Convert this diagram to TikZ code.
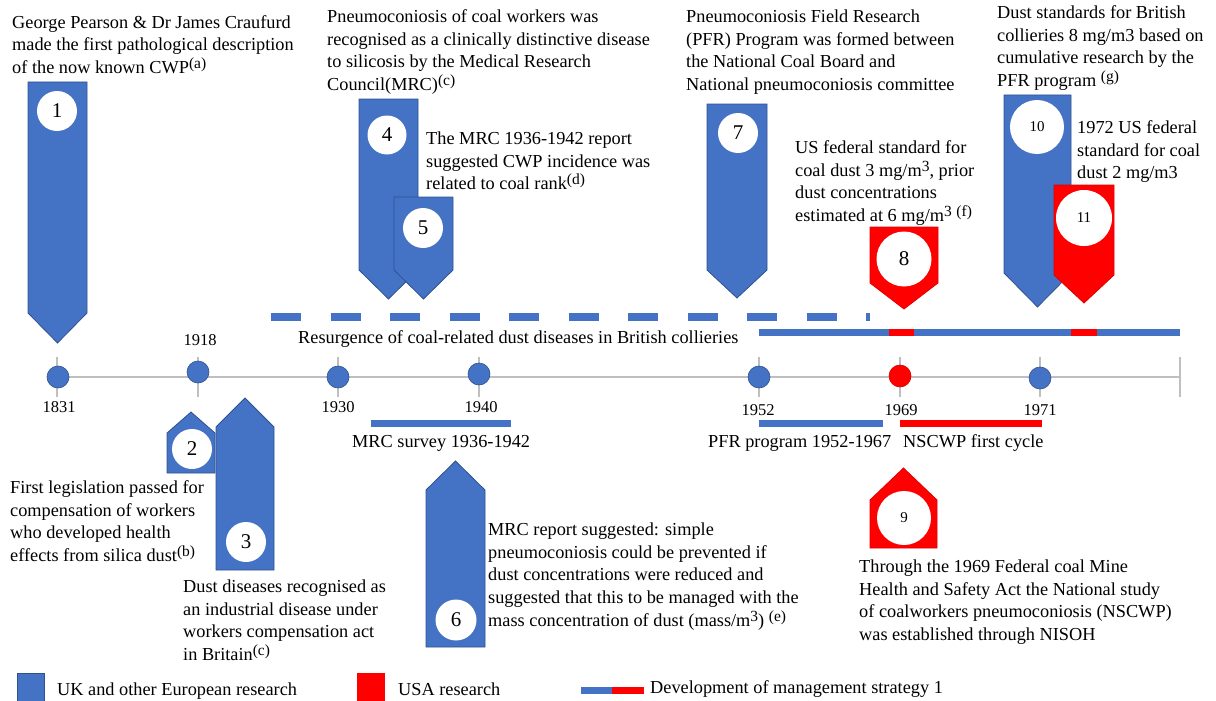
\documentclass[tikz,border=0pt]{standalone}
\usepackage{fontspec}
\setmainfont{Liberation Serif}
\definecolor{ublue}{HTML}{4472C4}
\definecolor{ubluedk}{HTML}{2F528F}
\definecolor{ured}{HTML}{FF0000}
\definecolor{axisgrey}{HTML}{BFBFBF}
\newcommand{\sups}[1]{\raisebox{5pt}{\fontsize{15.5}{15.5}\selectfont #1}}
\newcommand{\fst}{\rule{0pt}{14pt}}
% down arrow: L R T S Y
\newcommand{\downarr}[6]{\path[#1] (#2,#4) -- (#3,#4) -- (#3,#5) -- ({(#2+#3)/2},#6) -- (#2,#5) -- cycle;}
% up arrow: L R tip S B
\newcommand{\uparr}[6]{\path[#1] ({(#2+#3)/2},#4) -- (#3,#5) -- (#3,#6) -- (#2,#6) -- (#2,#5) -- cycle;}
\begin{document}
\begin{tikzpicture}[x=1pt,y=-1pt,
  txt/.style={anchor=north west, inner sep=0pt, align=left, font=\fontsize{18.3}{22.8}\selectfont},
  lbl/.style={anchor=base west, inner sep=0pt, font=\fontsize{18.3}{22.8}\selectfont},
  yr/.style={anchor=base, inner sep=0pt, font=\fontsize{16.5}{18}\selectfont},
  bluearrow/.style={fill=ublue, draw=ubluedk, line width=0.8pt},
  redarrow/.style={fill=ured, draw=ured!90!black, line width=0.8pt},
  numc/.style={circle, fill=white, inner sep=0pt, minimum size=#1, font=\fontsize{21}{21}\selectfont},
  numcs/.style={circle, fill=white, inner sep=0pt, minimum size=#1, font=\fontsize{15}{15}\selectfont},
  bdot/.style={circle, fill=ublue, draw=ubluedk, line width=0.6pt, minimum size=22pt, inner sep=0pt},
  rdot/.style={circle, fill=ured, draw=ured!85!black, line width=0.6pt, minimum size=22pt, inner sep=0pt},
  axis/.style={axisgrey, line width=1.5pt},
  tick/.style={axisgrey, line width=1.2pt},
  bar/.style={line width=7pt}
]
\useasboundingbox (0,0) rectangle (1216,701);

% ---- axis ----
\draw[axis] (58,377) -- (1180,377);
\foreach \x in {57,198,338,479,759,900,1040,1180} {\draw[tick] (\x,357) -- (\x,397);}
\node[bdot] (d1831) at (58,377) {};
\node[bdot] (d1918) at (198,372) {};
\node[bdot] (d1930) at (338,377) {};
\node[bdot] (d1940) at (479,374) {};
\node[bdot] (d1952) at (759,377) {};
\node[rdot] (d1969) at (900,376) {};
\node[bdot] (d1971) at (1040,378) {};
\node[yr] (y1831) at (59,412) {1831};
\node[yr] (y1918) at (200,345) {1918};
\node[yr] (y1930) at (338,412) {1930};
\node[yr] (y1940) at (481,412) {1940};
\node[yr] (y1952) at (758,415) {1952};
\node[yr] (y1969) at (901,415) {1969};
\node[yr] (y1971) at (1040,415) {1971};

% ---- bars ----
\draw[bar, ublue] (371,423) -- (511,423);
\draw[bar, ublue] (759,423) -- (883,423);
\draw[bar, ured] (900,423) -- (1042,423);
\node[lbl] (lmrc) at (352,447) {MRC survey 1936-1942};
\node[lbl] (lpfr) at (708,447) {PFR program 1952-1967};
\node[lbl] (lnsc) at (903,447) {NSCWP first cycle};

% ---- strategy lines ----
\draw[ublue, line width=8pt, dash pattern=on 30pt off 29.5pt] (271,317) -- (870,317);
\node[lbl] (lres) at (298,343) {Resurgence of coal-related dust diseases in British collieries};
\draw[bar, ublue] (759,332) -- (1180,332);
\draw[bar, ured] (889,332) -- (914,332);
\draw[bar, ured] (1071,332) -- (1097,332);

% ---- arrows ----
\downarr{bluearrow}{28}{87}{82}{313}{343}
\node[numc=40pt] (n1) at (57,111) {1};
\uparr{bluearrow}{167}{215}{412}{433}{473}
\node[numc=40pt] (n2) at (192,449) {2};
\uparr{bluearrow}{216}{274}{398}{427}{570}
\node[numc=40pt] (n3) at (246,542) {3};
\downarr{bluearrow}{359}{418}{99}{270}{299}
\node[numc=39pt] (n4) at (387,135) {4};
\downarr{bluearrow}{394}{453}{197}{270}{299}
\node[numc=40pt] (n5) at (423,228) {5};
\uparr{bluearrow}{426}{485}{461}{490}{647}
\node[numc=41pt] (n6) at (456,620) {6};
\downarr{bluearrow}{707}{767}{104}{270}{298}
\node[numc=40pt] (n7) at (738,133) {7};
\downarr{redarrow}{870}{938}{227}{283}{309}
\node[numc=55pt] (n8) at (904,259) {8};
\uparr{redarrow}{870}{937}{468}{500}{548}
\node[numcs=54pt] (n9) at (904,518) {9};
\downarr{bluearrow}{1004}{1071}{95}{273}{307}
\node[numcs=54pt] (n10) at (1037,127) {10};
\downarr{redarrow}{1054}{1114}{185}{275}{303}
\node[numcs=56pt] (n11) at (1084,218) {11};

% ---- texts ----
\node[txt] (t1) at (12,14) {\fst George Pearson \& Dr James Craufurd\\made the first pathological description\\of the now known CWP\sups{(a)}};
\node[txt] (t2) at (10,479) {\fst First legislation passed for\\compensation of workers\\who developed health\\effects from silica dust\sups{(b)}};
\node[txt] (t3) at (183,578) {\fst Dust diseases recognised as\\an industrial disease under\\workers compensation act\\in Britain\sups{(c)}};
\node[txt] (t4) at (327,8) {\fst Pneumoconiosis of coal workers was\\recognised as a clinically distinctive disease\\to silicosis by the Medical Research\\Council(MRC)\sups{(c)}};
\node[txt] (t5) at (426,130) {\fst The MRC 1936-1942 report\\suggested CWP incidence was\\related to coal rank\sups{(d)}};
\node[txt] (t6) at (488,521) {\fst MRC report suggested: simple\\pneumoconiosis could be prevented if\\dust concentrations were reduced and\\suggested that this to be managed with the\\mass concentration of dust (mass/m\sups{3}) \sups{(e)}};
\node[txt] (t7) at (686,8) {\fst Pneumoconiosis Field Research\\(PFR) Program was formed between\\the National Coal Board and\\National pneumoconiosis committee};
\node[txt] (t8) at (795,139) {\fst US federal standard for\\coal dust 3 mg/m\sups{3}, prior\\dust concentrations\\estimated at 6 mg/m\sups{3} \sups{(f)}};
\node[txt] (t9) at (859,558) {\fst Through the 1969 Federal coal Mine\\Health and Safety Act the National study\\of coalworkers pneumoconiosis (NSCWP)\\was established through NISOH};
\node[txt] (t10) at (997,4) {\fst Dust standards for British\\collieries 8 mg/m3 based on\\cumulative research by the\\PFR program \sups{(g)}};
\node[txt] (t11) at (1077,119) {\fst 1972 US federal\\standard for coal\\dust 2 mg/m3};

% ---- legend ----
\path[fill=ublue, draw=ubluedk, line width=0.6pt] (17,673) rectangle (44,701);
\node[lbl] (leg1) at (57,695) {UK and other European research};
\path[fill=ured] (357,673) rectangle (385,701);
\node[lbl] (leg2) at (398,695) {USA research};
\draw[bar, ublue] (581,690) -- (612,690);
\draw[bar, ured] (612,690) -- (644,690);
\node[lbl] (leg3) at (650,693) {Development of management strategy 1};
\end{tikzpicture}
\end{document}
